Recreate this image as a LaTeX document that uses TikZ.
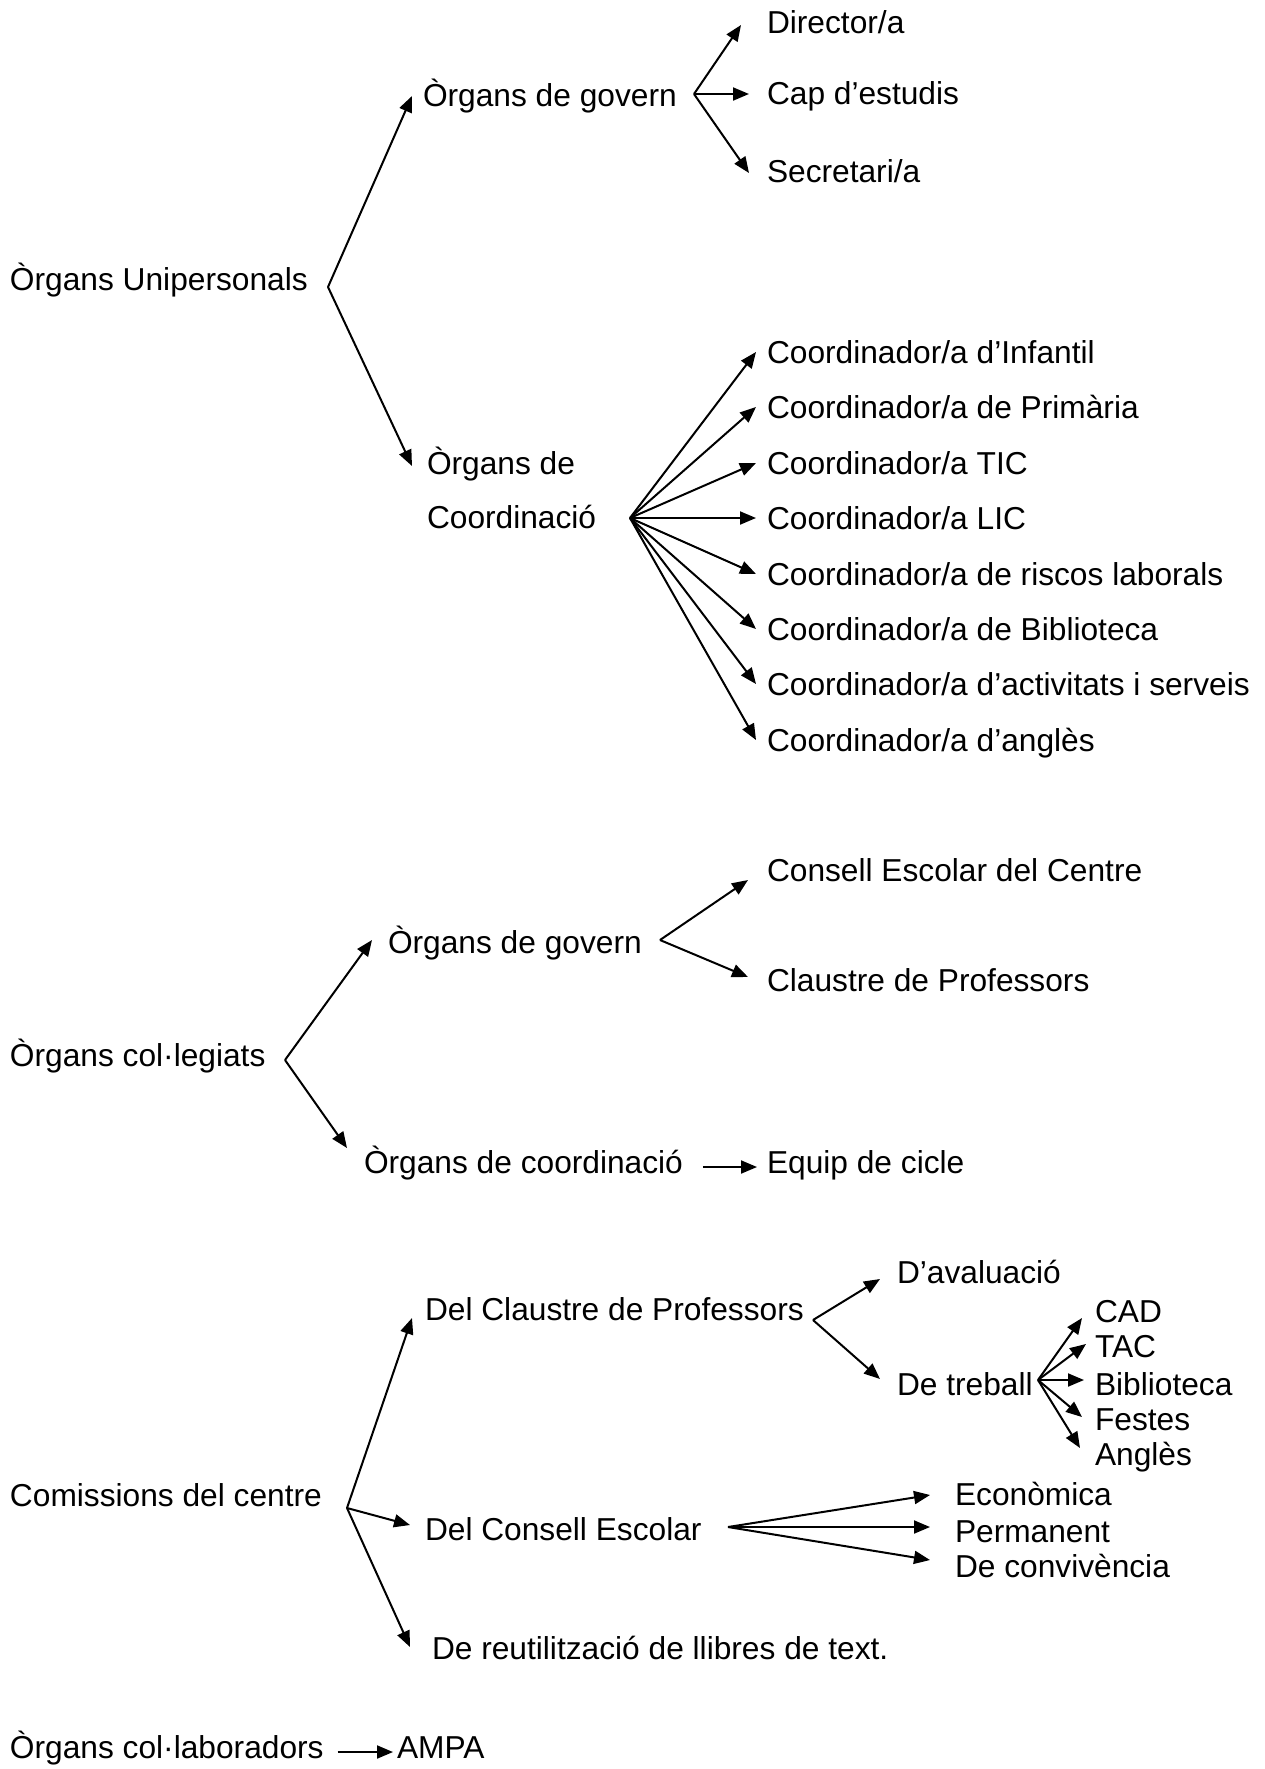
\documentclass[tikz,border=0pt]{standalone}
\usepackage{fontspec}
\setmainfont{Liberation Sans}
\usetikzlibrary{arrows.meta}
\tikzset{
  lbl/.style={anchor=base west, inner sep=0pt, outer sep=0pt, font=\fontsize{15.85pt}{19pt}\selectfont},
  arr/.style={line width=1pt, -{Triangle[length=8pt,width=6.5pt]}},
}
\begin{document}
\begin{tikzpicture}[x=0.5pt,y=-0.5pt]
\useasboundingbox[fill=white] (0,0) rectangle (1265,1769);

% ---------- Section 1 ----------
\node[lbl] (ou) at (10,290) {Òrgans Unipersonals};
\coordinate (v1) at (328,287);
\node[lbl] (og1) at (423,106) {Òrgans de govern};
\node[lbl] (oc1a) at (427,474) {Òrgans de};
\node[lbl] (oc1b) at (427,528) {Coordinació};
\coordinate (vg1) at (694,94);
\node[lbl] (dir) at (767,33) {Director/a};
\node[lbl] (cap) at (767,104) {Cap d’estudis};
\node[lbl] (sec) at (767,182) {Secretari/a};
\coordinate (vc1) at (630,518);
\node[lbl] (c1) at (767,363) {Coordinador/a d’Infantil};
\node[lbl] (c2) at (767,418) {Coordinador/a de Primària};
\node[lbl] (c3) at (767,474) {Coordinador/a TIC};
\node[lbl] (c4) at (767,529) {Coordinador/a LIC};
\node[lbl] (c5) at (767,585) {Coordinador/a de riscos laborals};
\node[lbl] (c6) at (767,640) {Coordinador/a de Biblioteca};
\node[lbl] (c7) at (767,695) {Coordinador/a d’activitats i serveis};
\node[lbl] (c8) at (767,751) {Coordinador/a d’anglès};

\draw[arr] (v1) -- ([shift={(-11,-10)}]og1.base west);
\draw[arr] (v1) -- ([shift={(-15,-8)}]oc1a.base west);
\draw[arr] (vg1) -- ([shift={(-26,-8)}]dir.base west);
\draw[arr] (vg1) -- ([shift={(-18,-10)}]cap.base west);
\draw[arr] (vg1) -- ([shift={(-18,-9)}]sec.base west);
\foreach \n in {c1,c2,c3,c4,c5,c6,c7,c8}
  \draw[arr] (vc1) -- ([shift={(-11,-11)}]\n.base west);

% ---------- Section 2 ----------
\node[lbl] (ocl) at (10,1066) {Òrgans col·legiats};
\coordinate (v2) at (285,1060);
\node[lbl] (og2) at (388,953) {Òrgans de govern};
\coordinate (vg2) at (660,940);
\node[lbl] (ce) at (767,881) {Consell Escolar del Centre};
\node[lbl] (cp) at (767,991) {Claustre de Professors};
\node[lbl] (ocd) at (364,1173) {Òrgans de coordinació};
\node[lbl] (eq) at (767,1173) {Equip de cicle};

\draw[arr] (v2) -- ([shift={(-16,-13)}]og2.base west);
\draw[arr] (v2) -- ([shift={(-17,-25)}]ocd.base west);
\draw[arr] (vg2) -- ([shift={(-19,-1)}]ce.base west);
\draw[arr] (vg2) -- ([shift={(-19,-14)}]cp.base west);
\draw[arr] ([shift={(20,-6)}]ocd.base east) -- ([shift={(-10,-6)}]eq.base west);

% ---------- Section 3 ----------
\node[lbl] (com) at (10,1506) {Comissions del centre};
\coordinate (vcom) at (347,1508);
\node[lbl] (dcp) at (425,1320) {Del Claustre de Professors};
\coordinate (vdcp) at (813,1320);
\node[lbl] (dav) at (897,1283) {D’avaluació};
\node[lbl] (dtr) at (897,1395) {De treball};
\coordinate (vdt) at (1038,1380);
\node[lbl] (cad) at (1095,1322) {CAD};
\node[lbl] (tac) at (1095,1357) {TAC};
\node[lbl] (bib) at (1095,1395) {Biblioteca};
\node[lbl] (fes) at (1095,1430) {Festes};
\node[lbl] (ang) at (1095,1465) {Anglès};
\node[lbl] (dce) at (425,1540) {Del Consell Escolar};
\coordinate (vdce) at (728,1527);
\node[lbl] (eco) at (955,1505) {Econòmica};
\node[lbl] (per) at (955,1542) {Permanent};
\node[lbl] (dcv) at (955,1577) {De convivència};
\node[lbl] (reu) at (432,1659) {De reutilització de llibres de text.};

\draw[arr] (vcom) -- ([shift={(-13,-2)}]dcp.base west);
\draw[arr] (vcom) -- ([shift={(-15,-15)}]dce.base west);
\draw[arr] (vcom) -- ([shift={(-22,-12)}]reu.base west);
\draw[arr] (vdcp) -- ([shift={(-17,-4)}]dav.base west);
\draw[arr] (vdcp) -- ([shift={(-17,-16)}]dtr.base west);
\draw[arr] (vdt) -- ([shift={(-13,-4)}]cad.base west);
\draw[arr] (vdt) -- ([shift={(-9,-13)}]tac.base west);
\draw[arr] (vdt) -- ([shift={(-11,-15)}]bib.base west);
\draw[arr] (vdt) -- ([shift={(-13,-13)}]fes.base west);
\draw[arr] (vdt) -- ([shift={(-15,-17)}]ang.base west);
\draw[arr] (vdce) -- ([shift={(-25,-10)}]eco.base west);
\draw[arr] (vdce) -- ([shift={(-25,-15)}]per.base west);
\draw[arr] (vdce) -- ([shift={(-25,-17)}]dcv.base west);

% ---------- Section 4 ----------
\node[lbl] (ocol) at (10,1758) {Òrgans col·laboradors};
\node[lbl] (ampa) at (397,1758) {AMPA};
\draw[arr] ([shift={(14,-6)}]ocol.base east) -- ([shift={(-4,-6)}]ampa.base west);
\end{tikzpicture}
\end{document}
